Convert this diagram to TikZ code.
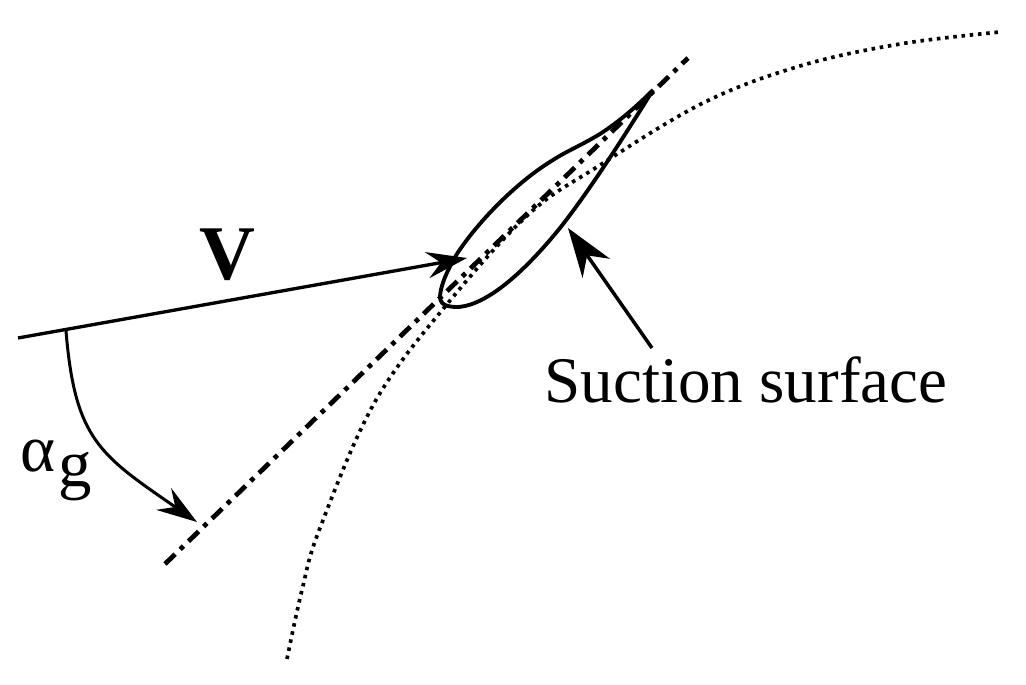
\documentclass[tikz,border=0pt]{standalone}
\usepackage{fontspec}
\setmainfont{Liberation Serif}
\usetikzlibrary{arrows.meta}
\tikzset{
    thickline/.style={line width=1.1pt, line join=round},
    chordline/.style={line width=1.35pt, dash pattern=on 4pt off 2pt on 1.3pt off 2pt},
    dotline/.style={line width=1.05pt, dash pattern=on 1pt off 1.35pt},
    bigtip/.style={-{Stealth[length=11.5pt, width=7.5pt, inset=4pt]}}
}
\begin{document}
\begin{tikzpicture}[x=0.01cm, y=-0.01cm]
    \useasboundingbox (0, 0) rectangle (1026, 685);

    % flow and angle
    \coordinate (vstart) at (18, 338);
    \coordinate (vend) at (467, 258);
    \coordinate (anglestart) at (66, 331);
    \coordinate (angleend) at (197, 522);
    \coordinate (chordstart) at (165, 564);
    \coordinate (chordend) at (688, 58);
    \coordinate (suctionstart) at (652, 348);
    \coordinate (suctionend) at (568, 228);

    \draw[dotline] plot[smooth, tension=0.6] coordinates {
        (287, 659) (302, 590) (320, 528) (376, 400) (453, 297) (530, 213)
        (597, 167) (703, 103) (800, 66) (900, 44) (1000, 32)};
    \draw[chordline] (chordstart) -- (chordend);

    % blade
    \draw[thickline] (653, 90) .. controls (637, 106) and (620, 121) .. (600, 134)
        .. controls (580, 146) and (565, 152) .. (553, 160)
        .. controls (515, 183) and (475, 225) .. (455, 257)
        .. controls (445, 275) and (440, 288) .. (440, 298)
        .. controls (441, 306) and (450, 307) .. (458, 307)
        .. controls (490, 305) and (530, 265) .. (560, 228)
        .. controls (590, 190) and (625, 135) .. (653, 90);

    \draw[line width=0.95pt, bigtip] (vstart) -- (vend);
    \draw[line width=0.85pt, bigtip] (anglestart) .. controls (75, 440) and (100, 455) .. (angleend);
    \draw[line width=1pt, -{Stealth[length=14pt, width=9.5pt, inset=4.5pt]}] (suctionstart) -- (suctionend);

    \node (vlabel) at (227, 255) {\fontsize{22}{24}\selectfont\bfseries V};
    \node (anglelabel) at (56, 470) {\fontsize{19}{22}\selectfont α\kern1pt\raisebox{-1.5mm}{g}};
    \node (suctionlabel) at (746, 380) {\fontsize{18.5}{22}\selectfont Suction surface};
\end{tikzpicture}
\end{document}
